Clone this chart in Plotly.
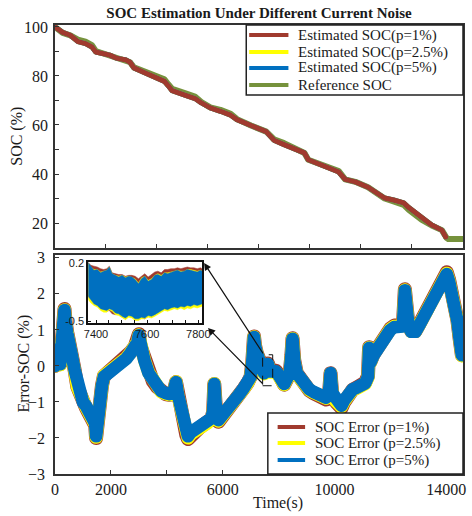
import plotly.graph_objects as go

# ---------------- data ----------------
soc_t = [0, 300, 600, 900, 1200, 1450, 1600, 1900, 2150, 2400, 2800, 2950, 3100, 3500, 4000,
         4300, 4450, 4600, 5100, 5500, 5750, 6100, 6500, 6900, 7150, 7400, 7700, 8300, 8450,
         8600, 9000, 9450, 9800, 9950, 10200, 10700, 11150, 11400, 11800, 12300, 12550, 12950,
         13300, 13700, 13900, 14400, 14800, 15200, 15350]
soc_p1 = [100, 97.8, 96.6, 94.0, 93.2, 91.8, 89.8, 89.0, 88.5, 87.3, 86.5, 85.6, 83.3, 81.4, 79.3,
          77.8, 76.0, 74.0, 72.2, 70.8, 69.0, 67.0, 65.6, 64.0, 62.2, 61.0, 59.8, 57.3, 55.3,
          53.8, 52.0, 50.0, 48.6, 45.8, 44.8, 42.9, 40.8, 37.8, 36.8, 34.6, 32.8, 30.2,
          29.4, 28.2, 26.3, 22.0, 19.2, 17.1, 14.3]
soc_p25 = [100, 97.8, 96.6, 94.0, 93.2, 91.8, 89.8, 89.0, 88.5, 87.3, 86.5, 85.6, 83.3, 81.4, 79.3,
           77.8, 76.0, 74.0, 72.2, 70.8, 69.0, 67.0, 65.6, 64.0, 62.2, 61.0, 59.8, 57.3, 55.3,
           53.8, 52.0, 50.0, 48.6, 45.8, 44.8, 42.9, 40.8, 37.8, 36.8, 34.6, 32.8, 30.2,
           29.4, 28.2, 26.3, 22.0, 19.2, 17.1, 14.3]
soc_p5 = [100, 97.8, 96.6, 94.0, 93.2, 91.8, 89.8, 89.0, 88.5, 87.3, 86.5, 85.6, 83.3, 81.4, 79.3,
          77.8, 76.0, 74.0, 72.2, 70.8, 69.0, 67.0, 65.6, 64.0, 62.2, 61.0, 59.8, 57.3, 55.3,
          53.8, 52.0, 50.0, 48.6, 45.8, 44.8, 42.9, 40.8, 37.8, 36.8, 34.6, 32.8, 30.2,
          29.4, 28.2, 26.3, 22.0, 19.2, 17.1, 14.3]
ref_t = [0, 300, 600, 900, 1200, 1450, 1600, 1900, 2150, 2400, 2800, 2950, 3100, 3500, 4000,
         4300, 4450, 4600, 5100, 5500, 5750, 6100, 6500, 6900, 7150, 7400, 7700, 8300, 8450,
         8600, 9000, 9450, 9800, 9950, 10200, 10700, 11150, 11400, 11800, 12300, 12550, 12950,
         13300, 13700, 13900, 14400, 14800, 15200, 15380, 15450, 16030]
soc_ref = [100, 97.6, 96.6, 94.8, 94.0, 92.6, 90.2, 89.2, 88.5, 87.3, 86.5, 85.6, 83.5, 81.8, 80.0,
           78.6, 76.6, 74.8, 73.0, 71.6, 69.4, 67.2, 66.2, 64.6, 62.4, 61.0, 59.8, 57.3, 55.6,
           54.2, 52.6, 50.6, 48.6, 45.8, 44.8, 43.4, 41.2, 37.8, 36.8, 34.6, 32.8, 30.0,
           28.8, 27.4, 25.4, 21.4, 19.0, 17.1, 14.0, 13.5, 13.5]

err_t = [0, 60, 120, 180, 240, 300, 340, 380, 440, 520, 600, 700, 800, 900, 1000, 1100, 1200,
         1300, 1400, 1440, 1470, 1510, 1560, 1620, 1680, 1750, 1850, 1950, 2050, 2150, 2250,
         2400, 2550, 2700, 2850, 2950, 3000, 3060, 3200, 3350, 3500, 3650, 3800, 3950, 4100,
         4250, 4330, 4400, 4500, 4600, 4700, 4760, 4850, 5000, 5150, 5300, 5450, 5600, 5660,
         5700, 5760, 5850, 6000, 6150, 6300, 6450, 6600, 6750, 6900, 7000, 7060, 7120, 7160,
         7220, 7300, 7400, 7480, 7560, 7620, 7700, 7800, 7900, 8000, 8100, 8200, 8300, 8400,
         8460, 8500, 8560, 8650, 8800, 8950, 9100, 9250, 9400, 9550, 9700, 9800, 9860, 9920,
         10050, 10150, 10250, 10350, 10500, 10650, 10800, 10950, 11100, 11200, 11240, 11290,
         11400, 11550, 11700, 11850, 12000, 12150, 12300, 12450, 12520, 12570, 12650, 12750,
         12900, 13050, 13200, 13350, 13500, 13650, 13800, 13950, 14020, 14100, 14200, 14300,
         14400, 14480, 14560]
err_p5 = [0.0, 0.45, 0.3, 0.05, 0.6, 1.2, 1.55, 1.2, 0.9, 0.7, 0.3, -0.1, -0.55, -0.85, -1.0, -1.1, -1.25,
          -1.35, -1.45, -1.6, -1.95, -1.5, -1.3, -1.0, -0.55, -0.3, -0.25, -0.1, -0.15, 0.0, 0.02,
          0.1, 0.2, 0.35, 0.5, 0.65, 0.85, 0.55, 0.15, -0.2, -0.4, -0.55, -0.7, -0.75, -0.78,
          -0.7, -0.45, -0.8, -1.15, -1.6, -1.85, -1.95, -1.85, -1.75, -1.7, -1.62, -1.55, -1.45, -1.25,
          -0.5, -1.2, -1.5, -1.38, -1.2, -1.05, -0.92, -0.78, -0.62, -0.45, -0.3, 0.1, 0.8, 0.55,
          0.35, 0.15, -0.05, -0.2, -0.05, 0.05, -0.15, -0.1, -0.15, -0.25, -0.4, -0.5, -0.35, -0.2,
          0.3, 0.75, 0.15, -0.2, -0.4, -0.55, -0.65, -0.72, -0.8, -0.85, -0.88, -0.8, -0.2, -0.75,
          -0.95, -1.05, -1.1, -0.95, -0.75, -0.65, -0.6, -0.55, -0.48, -0.3, 0.5, 0.1,
          0.3, 0.5, 0.7, 0.88, 1.0, 1.08, 1.12, 1.1, 2.1, 1.45, 1.1, 0.95,
          0.95, 1.15, 1.35, 1.55, 1.8, 2.05, 2.3, 2.5, 2.55, 2.35, 2.05, 1.7,
          1.25, 0.75, 0.3]
err_p1 = [0.0, 0.5, 0.3, 0.05, 0.62, 1.22, 1.58, 1.22, 0.92, 0.7, 0.3, -0.1, -0.58, -0.9, -1.05, -1.15, -1.3,
          -1.4, -1.5, -1.65, -2.0, -1.55, -1.33, -1.0, -0.55, -0.28, -0.22, -0.08, -0.12, 0.03, 0.05,
          0.13, 0.23, 0.38, 0.53, 0.68, 0.88, 0.55, 0.15, -0.2, -0.42, -0.58, -0.73, -0.78, -0.8,
          -0.72, -0.45, -0.83, -1.2, -1.66, -1.92, -2.03, -1.92, -1.8, -1.73, -1.64, -1.57, -1.47, -1.27,
          -0.5, -1.22, -1.55, -1.42, -1.24, -1.08, -0.94, -0.8, -0.63, -0.46, -0.3, 0.1, 0.82, 0.56,
          0.36, 0.16, -0.03, -0.17, -0.02, 0.07, -0.12, -0.08, -0.13, -0.23, -0.4, -0.52, -0.37, -0.2,
          0.3, 0.77, 0.16, -0.2, -0.41, -0.57, -0.68, -0.76, -0.84, -0.9, -0.93, -0.84, -0.2, -0.8,
          -1.0, -1.1, -1.17, -1.0, -0.78, -0.66, -0.6, -0.53, -0.46, -0.28, 0.52, 0.12,
          0.33, 0.53, 0.73, 0.92, 1.04, 1.12, 1.16, 1.14, 2.13, 1.48, 1.12, 0.97,
          0.97, 1.18, 1.38, 1.59, 1.84, 2.09, 2.34, 2.54, 2.6, 2.4, 2.1, 1.73,
          1.27, 0.76, 0.3]
err_p25 = [0.0, 0.47, 0.3, 0.03, 0.6, 1.2, 1.56, 1.2, 0.9, 0.68, 0.28, -0.12, -0.58, -0.88, -1.03, -1.13, -1.28,
           -1.38, -1.48, -1.63, -1.98, -1.53, -1.32, -1.02, -0.57, -0.27, -0.22, -0.08, -0.13, 0.02, 0.04,
           0.12, 0.22, 0.37, 0.52, 0.67, 0.86, 0.56, 0.17, -0.18, -0.4, -0.56, -0.72, -0.77, -0.8,
           -0.72, -0.44, -0.82, -1.18, -1.64, -1.9, -2.0, -1.9, -1.79, -1.74, -1.66, -1.59, -1.48, -1.27,
           -0.49, -1.23, -1.53, -1.4, -1.22, -1.07, -0.94, -0.8, -0.64, -0.47, -0.31, 0.1, 0.81, 0.55,
           0.35, 0.15, -0.06, -0.22, -0.07, 0.04, -0.17, -0.12, -0.17, -0.27, -0.42, -0.52, -0.37, -0.22,
           0.3, 0.76, 0.14, -0.22, -0.42, -0.57, -0.67, -0.74, -0.82, -0.87, -0.9, -0.82, -0.21, -0.78,
           -0.98, -1.08, -1.13, -0.98, -0.77, -0.67, -0.62, -0.57, -0.5, -0.32, 0.51, 0.1,
           0.32, 0.52, 0.72, 0.9, 1.02, 1.1, 1.14, 1.12, 2.11, 1.46, 1.11, 0.96,
           0.96, 1.16, 1.36, 1.57, 1.82, 2.07, 2.32, 2.52, 2.57, 2.37, 2.07, 1.71,
           1.26, 0.75, 0.28]

# inset (zoom 7370-7815 s): band envelopes
ins_t = [7367, 7380, 7392, 7405, 7418, 7430, 7442, 7452, 7463, 7476, 7489, 7502, 7515, 7528,
         7540, 7553, 7566, 7578, 7591, 7604, 7617, 7630, 7642, 7655, 7668, 7680, 7693, 7706,
         7719, 7732, 7745, 7757, 7770, 7783, 7796, 7808, 7815]
ins_p5_hi = [0.21, 0.15, 0.11, 0.12, 0.08, 0.10, 0.11, 0.15, 0.07, 0.05, 0.03, 0.05, 0.02, 0.04,
             0.03, 0.00, -0.05, 0.01, 0.04, -0.02, 0.00, 0.05, 0.06, 0.04, 0.08, 0.07, 0.09, 0.10,
             0.11, 0.09, 0.10, 0.12, 0.11, 0.10, 0.09, 0.11, 0.10]
ins_p5_lo = [-0.19, -0.25, -0.29, -0.31, -0.35, -0.36, -0.37, -0.35, -0.36, -0.40, -0.41, -0.44, -0.46, -0.43,
             -0.44, -0.47, -0.47, -0.45, -0.46, -0.43, -0.44, -0.42, -0.40, -0.38, -0.35, -0.36, -0.34, -0.33,
             -0.34, -0.32, -0.33, -0.31, -0.32, -0.30, -0.31, -0.30, -0.29]
ins_p1_hi = [0.21, 0.17, 0.16, 0.15, 0.13, 0.12, 0.13, 0.16, 0.08, 0.07, 0.06, 0.06, 0.04, 0.05,
             0.05, 0.04, 0.01, 0.04, 0.07, 0.03, 0.06, 0.09, 0.10, 0.08, 0.12, 0.12, 0.13, 0.13,
             0.14, 0.13, 0.14, 0.15, 0.14, 0.14, 0.13, 0.14, 0.13]
ins_p1_lo = [-0.20, -0.26, -0.30, -0.32, -0.36, -0.37, -0.38, -0.37, -0.41, -0.42, -0.42, -0.45, -0.47, -0.44,
             -0.45, -0.48, -0.48, -0.46, -0.47, -0.44, -0.45, -0.43, -0.41, -0.39, -0.36, -0.37, -0.35, -0.34,
             -0.35, -0.33, -0.34, -0.32, -0.33, -0.31, -0.32, -0.31, -0.30]
ins_p25_hi = [0.21, 0.15, 0.12, 0.12, 0.09, 0.10, 0.11, 0.15, 0.07, 0.05, 0.04, 0.05, 0.03, 0.04,
              0.03, 0.01, -0.04, 0.02, 0.04, -0.01, 0.01, 0.05, 0.07, 0.05, 0.08, 0.08, 0.09, 0.10,
              0.11, 0.10, 0.10, 0.12, 0.12, 0.11, 0.10, 0.11, 0.10]
ins_p25_lo = [-0.23, -0.28, -0.31, -0.33, -0.37, -0.39, -0.39, -0.36, -0.38, -0.42, -0.43, -0.46, -0.48, -0.45,
              -0.46, -0.49, -0.49, -0.47, -0.47, -0.45, -0.46, -0.44, -0.42, -0.40, -0.37, -0.38, -0.36, -0.35,
              -0.36, -0.34, -0.36, -0.34, -0.35, -0.33, -0.34, -0.33, -0.32]

top_names = ["Estimated SOC(p=1%)", "Estimated SOC(p=2.5%)", "Estimated SOC(p=5%)", "Reference SOC"]
bot_names = ["SOC Error (p=1%)", "SOC Error (p=2.5%)", "SOC Error (p=5%)"]

# ---------------- style ----------------
RED = "#A03A2E"
YEL = "#FFFF00"
BLU = "#0070C0"
GRN = "#76923C"
SERIF = "Liberation Serif"
INK = "#1a1a1a"

# pixel -> paper helpers (plot area: x 55..471, y 25..474)
def px(x):
    return (x - 55) / 416


def py(y):
    return (474 - y) / 449


fig = go.Figure()

# top subplot
fig.add_trace(go.Scatter(x=ref_t, y=soc_ref, mode="lines", line=dict(color=GRN, width=6),
                         name=top_names[3], showlegend=False))
fig.add_trace(go.Scatter(x=soc_t, y=soc_p25, mode="lines", line=dict(color=YEL, width=5),
                         name=top_names[1], showlegend=False))
fig.add_trace(go.Scatter(x=soc_t, y=soc_p5, mode="lines", line=dict(color=BLU, width=5),
                         name=top_names[2], showlegend=False))
fig.add_trace(go.Scatter(x=soc_t, y=soc_p1, mode="lines", line=dict(color=RED, width=5),
                         name=top_names[0], showlegend=False))

# bottom subplot
fig.add_trace(go.Scatter(x=err_t, y=err_p1, mode="lines", xaxis="x2", yaxis="y2",
                         line=dict(color=RED, width=14), name=bot_names[0], showlegend=False))
fig.add_trace(go.Scatter(x=err_t, y=err_p25, mode="lines", xaxis="x2", yaxis="y2",
                         line=dict(color=YEL, width=13.2), name=bot_names[1], showlegend=False))
fig.add_trace(go.Scatter(x=err_t, y=err_p5, mode="lines", xaxis="x2", yaxis="y2",
                         line=dict(color=BLU, width=12.8), name=bot_names[2], showlegend=False))

# inset bands
for hi, lo, col in [(ins_p1_hi, ins_p1_lo, RED), (ins_p25_hi, ins_p25_lo, YEL), (ins_p5_hi, ins_p5_lo, BLU)]:
    fig.add_trace(go.Scatter(x=ins_t, y=hi, mode="lines", xaxis="x3", yaxis="y3",
                             line=dict(color=col, width=0.5), showlegend=False, hoverinfo="skip"))
    fig.add_trace(go.Scatter(x=ins_t, y=lo, mode="lines", xaxis="x3", yaxis="y3", fill="tonexty",
                             fillcolor=col, line=dict(color=col, width=0.5), showlegend=False,
                             hoverinfo="skip"))

tickfont = dict(family=SERIF, size=16, color=INK)
axis_common = dict(showline=True, linecolor="#333", linewidth=1.5, mirror=True, ticks="inside",
                   ticklen=4, tickwidth=1, tickcolor="#333", showgrid=False, zeroline=False,
                   tickfont=tickfont)

fig.update_layout(
    width=472, height=516,
    margin=dict(l=55, r=1, t=25, b=42),
    paper_bgcolor="white", plot_bgcolor="white",
    showlegend=False,
    title=dict(text="<b>SOC Estimation Under Different Current Noise</b>",
               font=dict(family=SERIF, size=15, color=INK),
               x=0.5, xref="paper", y=1 - 13 / 516, yref="container", yanchor="middle"),
    xaxis=dict(domain=[0, 1], anchor="y", range=[0, 16030], tickvals=list(range(0, 16001, 2000)),
               showticklabels=False, **axis_common),
    yaxis=dict(domain=[0.5033, 1], anchor="x", range=[9.8, 100.8],
               tickvals=[20, 30, 40, 50, 60, 70, 80, 90, 100],
               ticktext=["20", "", "40", "", "60", "", "80", "", "100"],
               ticklabelstandoff=2, **axis_common),
    xaxis2=dict(domain=[0, 1], anchor="y2", range=[0, 14600],
                tickvals=[0, 2000, 4000, 6000, 8000, 10000, 12000, 14000],
                ticktext=["0", "2000", "", "6000", "", "10000", "", "14000"], **axis_common),
    yaxis2=dict(domain=[0, 0.4878], anchor="x2", range=[-3, 3.08],
                tickvals=[-3, -2, -1, 0, 1, 2, 3], ticklabelstandoff=5, **axis_common),
    xaxis3=dict(domain=[0.0817, 0.3606], anchor="y3", range=[7370, 7815],
                tickvals=list(range(7400, 7801, 50)),
                ticktext=["7400", "", "", "", "7600", "", "", "", "7800"],
                showline=True, linecolor="#111", linewidth=2, mirror=True, ticks="inside",
                ticklen=3, tickwidth=1, tickcolor="#111", showgrid=False, zeroline=False,
                tickfont=dict(family="Liberation Sans", size=11, color=INK)),
    yaxis3=dict(domain=[0.3363, 0.4722], anchor="x3", range=[-0.52, 0.21],
                tickvals=[-0.5, 0.2], ticktext=["-0.5", "0.2"],
                showline=True, linecolor="#111", linewidth=2, mirror=True, ticks="inside",
                ticklen=3, tickwidth=1, tickcolor="#111", showgrid=False, zeroline=False,
                tickfont=dict(family="Liberation Sans", size=11, color=INK)),
)

# axis titles as annotations
fig.add_annotation(text="SOC (%)", xref="paper", yref="paper", x=px(16), y=py(136),
                   xanchor="center", yanchor="middle", textangle=-90, showarrow=False,
                   font=dict(family=SERIF, size=16, color=INK))
fig.add_annotation(text="Error-SOC (%)", xref="paper", yref="paper", x=px(23), y=py(364),
                   xanchor="center", yanchor="middle", textangle=-90, showarrow=False,
                   font=dict(family=SERIF, size=16, color=INK))
fig.add_annotation(text="Time(s)", xref="paper", yref="paper", x=px(282), y=py(503),
                   xanchor="center", yanchor="middle", showarrow=False,
                   font=dict(family=SERIF, size=16, color=INK))

# dashed zoom box
fig.add_shape(type="rect", xref="x2", yref="y2", x0=7430, x1=7790, y0=-0.55, y1=0.31,
              line=dict(color="#111", width=1, dash="dash"))

# arrows from zoom box to inset
fig.add_annotation(xref="paper", yref="paper", x=px(207), y=py(263),
                   ax=60, ay=92, showarrow=True, arrowhead=2, arrowsize=1.2, arrowwidth=1.2,
                   arrowcolor="#111", text="")
fig.add_annotation(xref="paper", yref="paper", x=px(211), y=py(328),
                   ax=56, ay=57, showarrow=True, arrowhead=2, arrowsize=1.2, arrowwidth=1.2,
                   arrowcolor="#111", text="")

# manual legends (box + line samples + labels)
fig.add_shape(type="rect", xref="paper", yref="paper", x0=px(250), x1=px(471), y0=py(95), y1=py(25),
              fillcolor="white", line=dict(color="#222", width=1.5), layer="above")
for name, col, yy in zip(top_names, [RED, YEL, BLU, GRN], [35, 52, 68, 85]):
    fig.add_shape(type="line", xref="paper", yref="paper", x0=px(253), x1=px(293), y0=py(yy), y1=py(yy),
                  line=dict(color=col, width=4), layer="above")
    fig.add_annotation(text=name, xref="paper", yref="paper", x=px(301), y=py(yy), xanchor="left",
                       yanchor="middle", showarrow=False, font=dict(family=SERIF, size=15, color=INK))

fig.add_shape(type="rect", xref="paper", yref="paper", x0=px(272), x1=px(471), y0=py(474), y1=py(413),
              fillcolor="white", line=dict(color="#222", width=1.5), layer="above")
for name, col, yy in zip(bot_names, [RED, YEL, BLU], [427, 443, 460]):
    fig.add_shape(type="line", xref="paper", yref="paper", x0=px(282), x1=px(310), y0=py(yy), y1=py(yy),
                  line=dict(color=col, width=4), layer="above")
    fig.add_annotation(text=name, xref="paper", yref="paper", x=px(318), y=py(yy), xanchor="left",
                       yanchor="middle", showarrow=False, font=dict(family=SERIF, size=15, color=INK))

# round line joins for the thick curves
post = """
var gd = document.getElementsByClassName('plotly-graph-div')[0];
function rj(){ gd.querySelectorAll('.scatterlayer .js-line').forEach(function(p){
  p.style.strokeLinejoin='round'; p.style.strokeLinecap='round';}); }
rj(); gd.on('plotly_afterplot', rj);
"""
fig.write_html("out.html", post_script=post)
